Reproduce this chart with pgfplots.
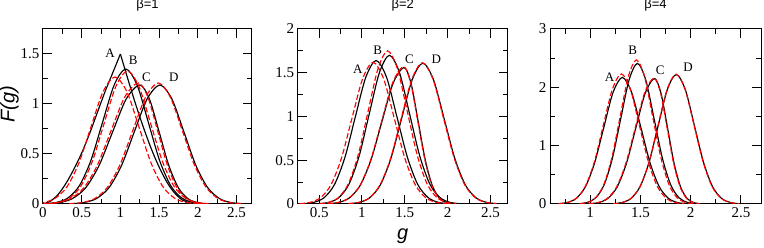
\documentclass[border=0pt]{standalone}
\usepackage{pgfplots}
\pgfplotsset{compat=1.18}
\usepackage{fontspec}
\setmainfont{Liberation Serif}
\setsansfont{Liberation Sans}
\newcommand\tkf{\rmfamily\fontsize{15pt}{15pt}\selectfont}
\newcommand\ttlf{\sffamily\fontsize{13pt}{13pt}\selectfont}
\newcommand\lbf{\rmfamily\fontsize{13pt}{13pt}\selectfont}
\newcommand\axf{\sffamily\itshape\fontsize{20pt}{20pt}\selectfont}
\pgfplotsset{
  panel/.style={
    scale only axis, height=175pt,
    axis line style={line width=1pt},
    every tick/.style={line width=1pt, black},
    major tick length=9pt, minor tick length=5pt,
    tick align=inside,
    minor x tick num=1, minor y tick num=1,
    xticklabel={\tkf\pgfmathprintnumber{\tick}},
    yticklabel={\tkf\pgfmathprintnumber{\tick}},
    clip=true,
  },
  bk/.style={black, line width=1.15pt, smooth, no marks},
  rd/.style={red, line width=1.15pt, smooth, no marks, dash pattern=on 5.5pt off 2.5pt},
}
\tikzset{lab/.style={font=\lbf, inner sep=0pt}}
\begin{document}
\begin{tikzpicture}
\useasboundingbox (0,0) rectangle (764pt,248pt);
% ---------------- beta = 1
\begin{axis}[panel, /pgf/number format/assume math mode=true,
  at={(43pt,44pt)}, anchor=south west, width=209pt,
  xmin=0, xmax=2.7, ymin=0, ymax=1.75,
  xtick={0,0.5,1,1.5,2,2.5}, ytick={0,0.5,1,1.5},
  title={\ttlf β=1},
  title style={at={(axis description cs:0.5,1)}, anchor=base, yshift=14pt},
  ylabel={\axf F(g)},
  ylabel style={at={(axis description cs:-0.16,0.57)}, anchor=center},
]
\addplot[bk] coordinates {(0.0,0)(0.1,0.03)(0.2,0.1)(0.3,0.21)(0.4,0.35)(0.5,0.51)(0.6,0.70)(0.7,0.91)(0.8,1.12)(0.9,1.31)(1.0,1.5)};
\addplot[bk] coordinates {(1.0,1.5)(1.1,1.24)(1.2,0.99)(1.3,0.76)(1.4,0.55)(1.5,0.37)(1.6,0.22)(1.7,0.11)(1.8,0.04)(1.9,0.01)(1.95,0)(2.1,0)};
\addplot[bk] coordinates {(0.02,0.003)(0.17,0.015)(0.32,0.059)(0.47,0.183)(0.62,0.438)(0.77,0.819)(0.92,1.191)(1.07,1.35)(1.215,1.191)(1.36,0.819)(1.505,0.438)(1.65,0.183)(1.795,0.059)(1.94,0.015)(2.085,0.003)};
\addplot[bk] coordinates {(0.025,0.003)(0.20,0.013)(0.375,0.052)(0.55,0.161)(0.725,0.386)(0.90,0.722)(1.075,1.050)(1.25,1.19)(1.375,1.050)(1.50,0.722)(1.625,0.386)(1.75,0.161)(1.875,0.052)(2.00,0.013)(2.125,0.003)};
\addplot[bk] coordinates {(0.355,0.003)(0.52,0.013)(0.685,0.052)(0.85,0.161)(1.015,0.386)(1.18,0.722)(1.345,1.050)(1.51,1.19)(1.665,1.050)(1.82,0.722)(1.975,0.386)(2.13,0.161)(2.285,0.052)(2.44,0.013)(2.595,0.003)};
\addplot[rd] coordinates {(-0.155,0.003)(0,0.014)(0.155,0.056)(0.31,0.172)(0.465,0.412)(0.62,0.770)(0.775,1.121)(0.93,1.27)(1.085,1.121)(1.24,0.770)(1.395,0.412)(1.55,0.172)(1.705,0.056)(1.86,0.014)(2.015,0.003)};
\addplot[rd] coordinates {(0.04,0.003)(0.19,0.015)(0.34,0.058)(0.49,0.180)(0.64,0.432)(0.79,0.807)(0.94,1.174)(1.09,1.33)(1.24,1.174)(1.39,0.807)(1.54,0.432)(1.69,0.180)(1.84,0.058)(1.99,0.015)(2.14,0.003)};
\addplot[rd] coordinates {(0.005,0.003)(0.18,0.013)(0.355,0.053)(0.53,0.164)(0.705,0.393)(0.88,0.734)(1.055,1.068)(1.23,1.21)(1.355,1.068)(1.48,0.734)(1.605,0.393)(1.73,0.164)(1.855,0.053)(1.98,0.013)(2.105,0.003)};
\addplot[rd] coordinates {(0.335,0.003)(0.50,0.013)(0.665,0.053)(0.83,0.164)(0.995,0.393)(1.16,0.734)(1.325,1.068)(1.49,1.21)(1.645,1.068)(1.80,0.734)(1.955,0.393)(2.11,0.164)(2.265,0.053)(2.42,0.013)(2.575,0.003)};
\node[lab] at (axis cs:0.867,1.507) {A};
\node[lab] at (axis cs:1.164,1.44) {B};
\node[lab] at (axis cs:1.336,1.267) {C};
\node[lab] at (axis cs:1.69,1.263) {D};
\end{axis}
% ---------------- beta = 2
\begin{axis}[panel, /pgf/number format/assume math mode=true,
  at={(297.7pt,44pt)}, anchor=south west, width=210pt,
  xmin=0.25, xmax=2.7, ymin=0, ymax=2,
  xtick={0.5,1,1.5,2,2.5}, ytick={0,0.5,1,1.5,2},
  title={\ttlf β=2},
  title style={at={(axis description cs:0.5,1)}, anchor=base, yshift=14pt},
  xlabel={\axf g},
  xlabel style={at={(axis description cs:0.5,0)}, anchor=base, yshift=-36pt},
]
\addplot[bk] coordinates {(0.315,0.004)(0.436,0.018)(0.558,0.072)(0.679,0.222)(0.801,0.533)(0.922,0.995)(1.044,1.447)(1.165,1.64)(1.287,1.447)(1.408,0.995)(1.530,0.533)(1.651,0.222)(1.773,0.072)(1.894,0.018)(2.016,0.004)};
\addplot[bk] coordinates {(0.498,0.004)(0.615,0.019)(0.733,0.075)(0.85,0.230)(0.968,0.552)(1.085,1.031)(1.203,1.500)(1.32,1.70)(1.438,1.500)(1.555,1.031)(1.673,0.552)(1.79,0.230)(1.908,0.075)(2.025,0.019)(2.143,0.004)};
\addplot[bk] coordinates {(0.594,0.003)(0.722,0.017)(0.85,0.068)(0.978,0.211)(1.106,0.507)(1.234,0.946)(1.362,1.377)(1.49,1.56)(1.5725,1.377)(1.655,0.946)(1.7375,0.507)(1.82,0.211)(1.9025,0.068)(1.985,0.017)(2.0675,0.003)};
\addplot[bk] coordinates {(0.842,0.004)(0.966,0.018)(1.09,0.071)(1.214,0.218)(1.338,0.523)(1.462,0.976)(1.586,1.421)(1.71,1.61)(1.834,1.421)(1.958,0.976)(2.082,0.523)(2.206,0.218)(2.33,0.071)(2.454,0.018)(2.578,0.004)};
\addplot[rd] coordinates {(0.269,0.004)(0.392,0.018)(0.515,0.071)(0.638,0.219)(0.761,0.526)(0.884,0.983)(1.007,1.430)(1.13,1.62)(1.253,1.430)(1.376,0.983)(1.499,0.526)(1.622,0.219)(1.745,0.071)(1.868,0.018)(1.991,0.004)};
\addplot[rd] coordinates {(0.502,0.004)(0.616,0.019)(0.73,0.077)(0.844,0.237)(0.958,0.568)(1.072,1.061)(1.186,1.544)(1.30,1.75)(1.414,1.544)(1.528,1.061)(1.642,0.568)(1.756,0.237)(1.87,0.077)(1.984,0.019)(2.098,0.004)};
\addplot[rd] coordinates {(0.596,0.003)(0.723,0.017)(0.85,0.069)(0.977,0.212)(1.104,0.510)(1.231,0.952)(1.358,1.386)(1.485,1.57)(1.5675,1.386)(1.65,0.952)(1.7325,0.510)(1.815,0.212)(1.8975,0.069)(1.98,0.017)(2.0625,0.003)};
\addplot[rd] coordinates {(0.841,0.004)(0.964,0.018)(1.088,0.071)(1.211,0.219)(1.335,0.524)(1.458,0.979)(1.582,1.425)(1.705,1.615)(1.829,1.425)(1.952,0.979)(2.076,0.524)(2.199,0.219)(2.323,0.071)(2.446,0.018)(2.570,0.004)};
\node[lab] at (axis cs:0.95,1.54) {A};
\node[lab] at (axis cs:1.184,1.76) {B};
\node[lab] at (axis cs:1.554,1.654) {C};
\node[lab] at (axis cs:1.866,1.654) {D};
\end{axis}
% ---------------- beta = 4
\begin{axis}[panel, /pgf/number format/assume math mode=true,
  at={(550pt,44pt)}, anchor=south west, width=211pt,
  xmin=0.6, xmax=2.7, ymin=0, ymax=3,
  xtick={1,1.5,2,2.5}, ytick={0,1,2,3},
  minor xtick={0.75,1.25,1.75,2.25},
  title={\ttlf β=4},
  title style={at={(axis description cs:0.5,1)}, anchor=base, yshift=14pt},
]
\addplot[bk] coordinates {(0.676,0.005)(0.768,0.024)(0.86,0.095)(0.952,0.294)(1.044,0.705)(1.136,1.316)(1.228,1.915)(1.32,2.17)(1.412,1.915)(1.504,1.316)(1.596,0.705)(1.688,0.294)(1.78,0.095)(1.872,0.024)(1.964,0.005)};
\addplot[bk] coordinates {(0.889,0.005)(0.972,0.027)(1.055,0.106)(1.138,0.326)(1.221,0.783)(1.304,1.462)(1.387,2.127)(1.47,2.41)(1.553,2.127)(1.636,1.462)(1.719,0.783)(1.802,0.326)(1.885,0.106)(1.968,0.027)(2.051,0.005)};
\addplot[bk] coordinates {(0.989,0.005)(1.082,0.024)(1.175,0.094)(1.268,0.291)(1.361,0.698)(1.454,1.304)(1.547,1.897)(1.64,2.15)(1.705,1.897)(1.77,1.304)(1.835,0.698)(1.90,0.291)(1.965,0.094)(2.03,0.024)(2.095,0.005)};
\addplot[bk] coordinates {(1.227,0.005)(1.317,0.025)(1.407,0.097)(1.497,0.300)(1.587,0.721)(1.677,1.346)(1.767,1.959)(1.857,2.22)(1.947,1.959)(2.037,1.346)(2.127,0.721)(2.217,0.300)(2.307,0.097)(2.397,0.025)(2.487,0.005)};
\addplot[rd] coordinates {(0.684,0.005)(0.773,0.025)(0.863,0.098)(0.952,0.302)(1.042,0.724)(1.131,1.352)(1.221,1.968)(1.31,2.23)(1.400,1.968)(1.489,1.352)(1.579,0.724)(1.668,0.302)(1.758,0.098)(1.847,0.025)(1.937,0.005)};
\addplot[rd] coordinates {(0.893,0.005)(0.974,0.027)(1.055,0.108)(1.136,0.334)(1.217,0.802)(1.298,1.498)(1.379,2.180)(1.46,2.47)(1.541,2.180)(1.622,1.498)(1.703,0.802)(1.784,0.334)(1.865,0.108)(1.946,0.027)(2.027,0.005)};
\addplot[rd] coordinates {(0.984,0.005)(1.077,0.024)(1.170,0.095)(1.263,0.292)(1.356,0.701)(1.449,1.310)(1.542,1.906)(1.635,2.16)(1.70,1.906)(1.765,1.310)(1.83,0.701)(1.895,0.292)(1.96,0.095)(2.025,0.024)(2.09,0.005)};
\addplot[rd] coordinates {(1.229,0.005)(1.318,0.025)(1.408,0.098)(1.497,0.301)(1.587,0.722)(1.676,1.349)(1.766,1.964)(1.855,2.225)(1.945,1.964)(2.034,1.349)(2.124,0.722)(2.213,0.301)(2.303,0.098)(2.392,0.025)(2.482,0.005)};
\node[lab] at (axis cs:1.192,2.17) {A};
\node[lab] at (axis cs:1.422,2.63) {B};
\node[lab] at (axis cs:1.698,2.30) {C};
\node[lab] at (axis cs:1.975,2.34) {D};
\end{axis}
\end{tikzpicture}
\end{document}
